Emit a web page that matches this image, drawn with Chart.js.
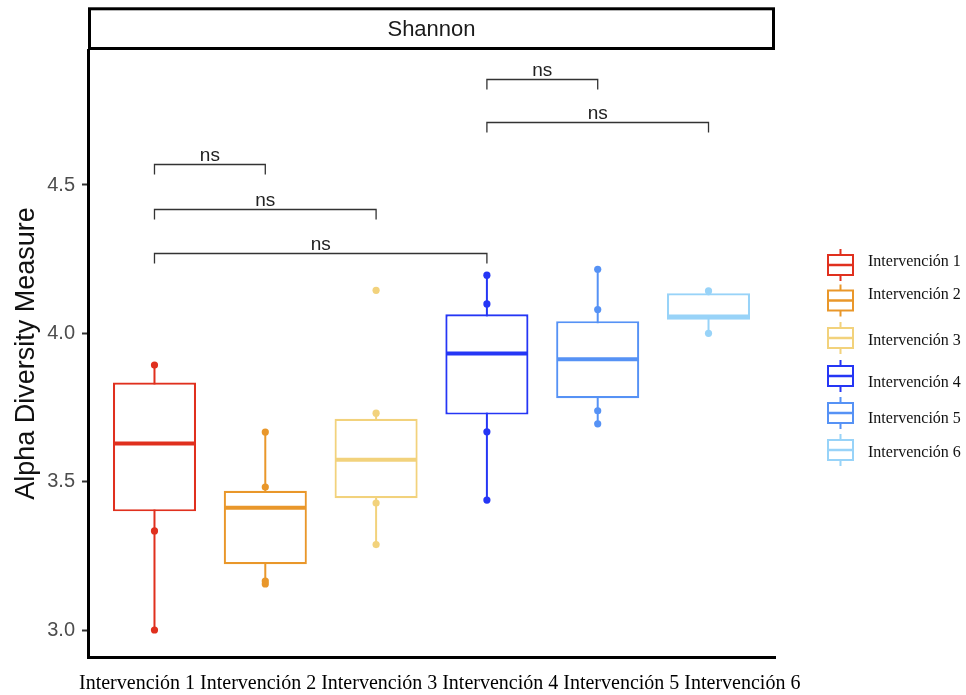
<!DOCTYPE html>
<html>
<head>
<meta charset="utf-8">
<script src="https://cdn.jsdelivr.net/npm/chart.js@4.4.1/dist/chart.umd.min.js"></script>
<style>
  html, body { margin: 0; padding: 0; background: #fff; }
  #wrap { width: 966px; height: 695px; position: relative; }
  canvas { display: block; }
</style>
</head>
<body>
<div id="wrap"><canvas id="c" width="966" height="695"></canvas></div>
<script>
// Shannon alpha diversity per intervention
const categories = ['Intervención 1', 'Intervención 2', 'Intervención 3', 'Intervención 4', 'Intervención 5', 'Intervención 6'];
const colors = ['#E0301E', '#E9972A', '#F2D27C', '#2536F5', '#5692F5', '#98D3F8'];

const whiskerLow  = [3.000, 3.155, 3.288, 3.438, 3.695, 4.000];
const q1          = [3.400, 3.222, 3.444, 3.726, 3.781, 4.046];
const median      = [3.629, 3.412, 3.574, 3.932, 3.913, 4.057];
const q3          = [3.834, 3.469, 3.712, 4.064, 4.041, 4.135];
const whiskerHigh = [3.893, 3.667, 3.731, 4.196, 4.216, 4.143];

const samplePoints = [
  [3.000, 3.334, 3.893],
  [3.155, 3.165, 3.482, 3.667],
  [3.288, 3.428, 3.731, 4.145],
  [3.438, 3.668, 4.099, 4.196],
  [3.695, 3.739, 4.080, 4.216],
  [4.000, 4.143]
];

// pairwise tests (group numbers), bracket heights and labels
const comparisons = [[1, 2], [1, 3], [1, 4], [4, 5], [4, 6]];
const comparisonY = [4.570, 4.419, 4.270, 4.856, 4.713];
const comparisonLabel = ['ns', 'ns', 'ns', 'ns', 'ns'];

const yTicks = [3.0, 3.5, 4.0, 4.5];
const facetTitle = 'Shannon';
const yTitle = 'Alpha Diversity Measure';

const SANS = '"Liberation Sans", Arial, sans-serif';
const SERIF = '"Liberation Serif", "Times New Roman", serif';

const boxData = categories.map((c, i) => ({ x: i + 1, y: [q1[i], q3[i]] }));
const pointData = [];
const pointColors = [];
samplePoints.forEach((arr, i) => arr.forEach(v => { pointData.push({ x: i + 1, y: v }); pointColors.push(colors[i]); }));

const boxplotDecor = {
  id: 'boxplotDecor',
  beforeDatasetsDraw(chart) {
    const { ctx, scales: { x, y } } = chart;
    ctx.save();
    ctx.lineWidth = 2;
    categories.forEach((c, i) => {
      const px = x.getPixelForValue(i + 1);
      ctx.strokeStyle = colors[i];
      ctx.beginPath();
      ctx.moveTo(px, y.getPixelForValue(whiskerLow[i]));
      ctx.lineTo(px, y.getPixelForValue(whiskerHigh[i]));
      ctx.stroke();
    });
    ctx.restore();
  },
  afterDatasetsDraw(chart) {
    const { ctx, scales: { x, y } } = chart;
    const bars = chart.getDatasetMeta(0).data;
    ctx.save();
    // medians
    ctx.lineWidth = 4;
    categories.forEach((c, i) => {
      const bar = bars[i];
      const py = y.getPixelForValue(median[i]);
      ctx.strokeStyle = colors[i];
      ctx.beginPath();
      ctx.moveTo(bar.x - bar.width / 2 + 1, py);
      ctx.lineTo(bar.x + bar.width / 2 - 1, py);
      ctx.stroke();
    });
    // significance brackets
    ctx.strokeStyle = '#333';
    ctx.lineWidth = 1.3;
    ctx.fillStyle = '#222';
    ctx.font = '19px ' + SANS;
    ctx.textAlign = 'center';
    ctx.textBaseline = 'alphabetic';
    comparisons.forEach((pair, k) => {
      const x1 = x.getPixelForValue(pair[0]);
      const x2 = x.getPixelForValue(pair[1]);
      const py = Math.round(y.getPixelForValue(comparisonY[k])) + 0.5;
      ctx.beginPath();
      ctx.moveTo(x1, py + 10);
      ctx.lineTo(x1, py);
      ctx.lineTo(x2, py);
      ctx.lineTo(x2, py + 10);
      ctx.stroke();
      ctx.fillText(comparisonLabel[k], (x1 + x2) / 2, py - 4);
    });
    ctx.restore();
  },
  afterDraw(chart) {
    const { ctx, chartArea } = chart;
    ctx.save();
    // facet strip
    ctx.fillStyle = '#fff';
    ctx.strokeStyle = '#000';
    ctx.lineWidth = 3;
    const sl = chartArea.left + 1.5, sr = chartArea.right - 1.5, st = 8.8, sb = 48.5;
    ctx.fillRect(sl, st, sr - sl, sb - st);
    ctx.strokeRect(sl, st, sr - sl, sb - st);
    ctx.fillStyle = '#1A1A1A';
    ctx.font = '22px ' + SANS;
    ctx.textAlign = 'center';
    ctx.textBaseline = 'middle';
    ctx.fillText(facetTitle, (sl + sr) / 2, (st + sb) / 2 + 1);

    // category captions along the bottom
    ctx.fillStyle = '#000';
    ctx.font = '20px ' + SERIF;
    ctx.textAlign = 'left';
    ctx.textBaseline = 'alphabetic';
    ctx.fillText(categories.join(' '), 79, 689);

    // legend
    const iconCenters = [265, 300.5, 338, 376, 413, 450];
    const textCenters = [261, 294, 340, 382, 418, 452];
    categories.forEach((c, i) => {
      const cy = iconCenters[i];
      ctx.save();
      ctx.filter = 'blur(0.5px)';
      ctx.strokeStyle = colors[i];
      ctx.lineWidth = 2;
      ctx.beginPath();
      ctx.moveTo(840.5, cy - 16);
      ctx.lineTo(840.5, cy - 10);
      ctx.moveTo(840.5, cy + 10);
      ctx.lineTo(840.5, cy + 16);
      ctx.stroke();
      ctx.fillStyle = '#fff';
      ctx.fillRect(828, cy - 10, 25, 20);
      ctx.strokeRect(828, cy - 10, 25, 20);
      ctx.lineWidth = 2.5;
      ctx.beginPath();
      ctx.moveTo(829, cy);
      ctx.lineTo(852, cy);
      ctx.stroke();
      ctx.restore();
      ctx.fillStyle = '#111';
      ctx.font = '16px ' + SERIF;
      ctx.textAlign = 'left';
      ctx.textBaseline = 'alphabetic';
      ctx.fillText(c, 868, textCenters[i] + 5);
    });
    ctx.restore();
  }
};

new Chart(document.getElementById('c'), {
  type: 'bar',
  data: {
    datasets: [
      {
        type: 'bar',
        data: boxData,
        backgroundColor: '#fff',
        borderColor: colors,
        borderWidth: 2.2,
        borderSkipped: false,
        categoryPercentage: 1,
        barPercentage: 0.75,
        order: 1
      },
      {
        type: 'scatter',
        data: pointData,
        pointBackgroundColor: pointColors,
        pointBorderWidth: 0,
        pointRadius: 3.6,
        order: 2
      }
    ]
  },
  options: {
    responsive: false,
    animation: false,
    devicePixelRatio: 1,
    layout: { padding: { left: 0, right: 191, top: 50, bottom: 0 } },
    plugins: { legend: { display: false }, tooltip: { enabled: false }, title: { display: false } },
    scales: {
      x: {
        type: 'linear',
        min: 0.4,
        max: 6.6,
        offset: false,
        afterBuildTicks: s => { s.ticks = categories.map((c, i) => ({ value: i + 1 })); },
        grid: { display: false },
        ticks: { display: false },
        border: { display: true, color: '#000', width: 3 },
        afterFit: s => { s.height = 38; }
      },
      y: {
        min: 2.909,
        max: 4.955,
        afterBuildTicks: s => { s.ticks = yTicks.map(v => ({ value: v })); },
        ticks: {
          color: '#4D4D4D',
          font: { family: SANS, size: 20 },
          padding: 7,
          callback: v => Number(v).toFixed(1)
        },
        grid: { display: true, drawOnChartArea: false, drawTicks: true, tickLength: 6, tickWidth: 2, tickColor: '#333' },
        border: { display: true, color: '#000', width: 3 },
        title: { display: true, text: yTitle, color: '#111', font: { family: SANS, size: 27 }, padding: { top: 10, bottom: 0 } },
        afterFit: s => { s.width = 88; }
      }
    }
  },
  plugins: [boxplotDecor]
});
</script>
</body>
</html>
